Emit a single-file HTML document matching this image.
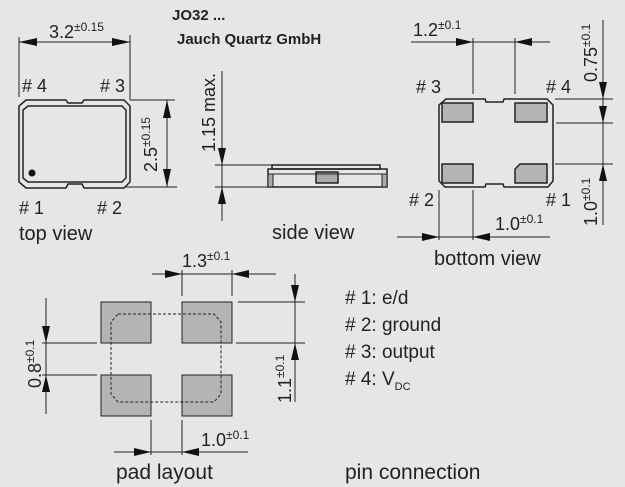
<!DOCTYPE html>
<html><head><meta charset="utf-8"><style>
html,body{margin:0;padding:0;background:#e6e6e6;}
svg{display:block;font-family:"Liberation Sans Narrow","Liberation Sans",sans-serif;}
text{fill:#222;}
</style></head><body>
<svg width="625" height="487" viewBox="0 0 625 487" xmlns="http://www.w3.org/2000/svg">
<rect width="625" height="487" fill="#e6e6e6"/>
<g stroke="#222" stroke-width="1" fill="none">
<path d="M26,100 L66,100 L68,103 L82,103 L84,100 L124,100 L130,106 L130,182 L124,188 L84,188 L82,184 L68,184 L66,188 L26,188 L19,182 L19,106 Z" stroke-width="1.5"/>
<path d="M28,106 L122,106 L126,110 L126,178 L122,182 L28,182 L23,178 L23,110 Z" stroke-width="1.5"/>
<line x1="19" y1="37" x2="19" y2="97"/>
<line x1="130" y1="35" x2="130" y2="100"/>
<line x1="19" y1="42" x2="130" y2="42"/>
<line x1="130" y1="100" x2="175" y2="100"/>
<line x1="126" y1="187" x2="177" y2="187"/>
<line x1="167" y1="100" x2="167" y2="187"/>
<line x1="222" y1="71" x2="222" y2="221"/>
<line x1="215" y1="165" x2="380" y2="165"/>
<line x1="215" y1="187" x2="268" y2="187"/>
<rect x="268" y="169" width="119" height="18" stroke-width="1.5"/>
<rect x="272" y="165" width="108" height="4" stroke-width="1.5"/>
<rect x="316" y="172" width="22" height="11" fill="#aaa" stroke-width="1.5"/>
<rect x="268" y="174" width="5" height="13" fill="#aaa"/>
<rect x="382" y="174" width="5" height="13" fill="#aaa"/>
<line x1="268" y1="174" x2="387" y2="174"/>
<path d="M446,99 L485,99 L486,102 L503,102 L504,99 L547,99 L553,105 L553,181 L548,187 L504,187 L503,184 L486,184 L485,187 L445,187 L439,181 L439,105 Z" stroke-width="1.5"/>
<rect x="442" y="103" width="31" height="19" fill="#b4b4b4" stroke-width="1.5"/>
<rect x="515" y="103" width="32" height="19" fill="#b4b4b4" stroke-width="1.5"/>
<rect x="442" y="164" width="31" height="19" fill="#b4b4b4" stroke-width="1.5"/>
<path d="M520,164 L547,164 L547,183 L515,183 L515,169 Z" fill="#b4b4b4" stroke-width="1.5"/>
<line x1="411" y1="42" x2="550" y2="42"/>
<line x1="473" y1="38" x2="473" y2="94"/>
<line x1="515" y1="38" x2="515" y2="94"/>
<line x1="603" y1="20" x2="603" y2="225"/>
<line x1="555" y1="99" x2="613" y2="99"/>
<line x1="556" y1="123" x2="613" y2="123"/>
<line x1="555" y1="164" x2="613" y2="164"/>
<line x1="397" y1="237" x2="550" y2="237"/>
<line x1="439" y1="190" x2="439" y2="240"/>
<line x1="473" y1="190" x2="473" y2="240"/>
<rect x="101" y="302" width="50" height="41" fill="#b4b4b4"/>
<rect x="182" y="302" width="50" height="41" fill="#b4b4b4"/>
<rect x="101" y="375" width="50" height="41" fill="#b4b4b4"/>
<rect x="182" y="375" width="50" height="41" fill="#b4b4b4"/>
<path d="M118,314 L214,314 L221,322 L221,394 L214,402 L118,402 L111,394 L111,322 Z" stroke-dasharray="3,2"/>
<line x1="152" y1="274" x2="276" y2="274"/>
<line x1="182" y1="270" x2="182" y2="296"/>
<line x1="232" y1="270" x2="232" y2="296"/>
<line x1="295" y1="274" x2="295" y2="402"/>
<line x1="238" y1="302" x2="305" y2="302"/>
<line x1="236" y1="343" x2="305" y2="343"/>
<line x1="46" y1="298" x2="46" y2="414"/>
<line x1="42" y1="343" x2="97" y2="343"/>
<line x1="42" y1="375" x2="97" y2="375"/>
<line x1="114" y1="452" x2="248" y2="452"/>
<line x1="151" y1="420" x2="151" y2="455"/>
<line x1="182" y1="420" x2="182" y2="455"/>
</g>
<circle cx="32" cy="173" r="3.5" fill="#111"/>
<g fill="#111">
<path d="M19,42 L37,38 L37,46 Z"/><path d="M130,42 L112,38 L112,46 Z"/>
<path d="M167,100 L163,118 L171,118 Z"/><path d="M167,187 L163,169 L171,169 Z"/>
<path d="M222,165 L218,148 L226,148 Z"/><path d="M222,187 L218,204 L226,204 Z"/>
<path d="M473,42 L456,38 L456,46 Z"/><path d="M515,42 L532,38 L532,46 Z"/>
<path d="M603,99 L599,82 L607,82 Z"/><path d="M603,123 L599,106 L607,106 Z"/><path d="M603,164 L599,181 L607,181 Z"/>
<path d="M439,237 L422,233 L422,241 Z"/><path d="M473,237 L490,233 L490,241 Z"/>
<path d="M182,274 L165,270 L165,278 Z"/><path d="M232,274 L249,270 L249,278 Z"/>
<path d="M295,302 L291,285 L299,285 Z"/><path d="M295,343 L291,360 L299,360 Z"/>
<path d="M46,343 L42,326 L50,326 Z"/><path d="M46,375 L42,392 L50,392 Z"/>
<path d="M151,452 L134,448 L134,456 Z"/><path d="M182,452 L199,448 L199,456 Z"/>
</g>
<g font-size="18">
<text x="172" y="20" font-size="15" font-weight="bold">JO32 ...</text>
<text x="177" y="44" font-size="15" font-weight="bold">Jauch Quartz GmbH</text>
<text x="49" y="38">3.2<tspan font-size="12" dy="-7">±0.15</tspan></text>
<text x="22" y="92"># 4</text><text x="100" y="92"># 3</text>
<text x="19" y="214"># 1</text><text x="97" y="214"># 2</text>
<text x="19" y="240" font-size="20">top view</text>
<text transform="translate(157,172) rotate(-90)">2.5<tspan font-size="12" dy="-7">±0.15</tspan></text>
<text transform="translate(215,152) rotate(-90)">1.15 max.</text>
<text x="272" y="239" font-size="20">side view</text>
<text x="413" y="36">1.2<tspan font-size="12" dy="-7">±0.1</tspan></text>
<text x="416" y="93"># 3</text><text x="546" y="93"># 4</text>
<text x="409" y="206"># 2</text><text x="546" y="206"># 1</text>
<text transform="translate(597,82) rotate(-90)">0.75<tspan font-size="12" dy="-7">±0.1</tspan></text>
<text transform="translate(597,226) rotate(-90)">1.0<tspan font-size="12" dy="-7">±0.1</tspan></text>
<text x="495" y="230">1.0<tspan font-size="12" dy="-7">±0.1</tspan></text>
<text x="434" y="265" font-size="20">bottom view</text>
<text x="182" y="267">1.3<tspan font-size="12" dy="-7">±0.1</tspan></text>
<text transform="translate(291,403) rotate(-90)">1.1<tspan font-size="12" dy="-7">±0.1</tspan></text>
<text transform="translate(41,388) rotate(-90)">0.8<tspan font-size="12" dy="-7">±0.1</tspan></text>
<text x="201" y="446">1.0<tspan font-size="12" dy="-7">±0.1</tspan></text>
<text x="116" y="479" font-size="21">pad layout</text>
<text x="345" y="304" font-size="19"># 1: e/d</text>
<text x="345" y="331" font-size="19"># 2: ground</text>
<text x="345" y="358" font-size="19"># 3: output</text>
<text x="345" y="385" font-size="19"># 4: V<tspan font-size="11" dy="5">DC</tspan></text>
<text x="345" y="479" font-size="21">pin connection</text>
</g>
</svg>
</body></html>
